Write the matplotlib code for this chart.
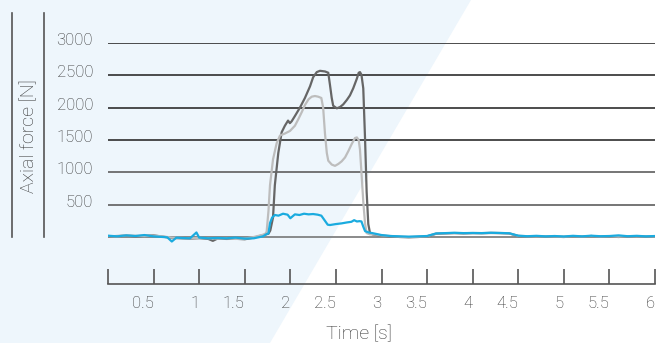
import matplotlib
matplotlib.use("Agg")
import matplotlib.pyplot as plt
from matplotlib.patches import Polygon
from matplotlib.lines import Line2D
from matplotlib.transforms import ScaledTranslation

plt.rcParams['font.family'] = ['Roboto', 'DejaVu Sans']

# ---------------- data ----------------
dark_t = [0.0, 0.1, 0.2, 0.3, 0.4, 0.5, 0.6, 0.7, 0.8, 0.9, 1.0, 1.1, 1.15, 1.2, 1.3, 1.4, 1.5, 1.6, 1.7,
          1.76, 1.78, 1.81, 1.83, 1.868, 1.905, 1.94, 1.975, 1.995, 2.015, 2.05, 2.105, 2.16, 2.216, 2.25,
          2.29, 2.325, 2.38, 2.416, 2.435, 2.454, 2.47, 2.51, 2.545, 2.58, 2.62, 2.654, 2.69, 2.73, 2.75,
          2.764, 2.78, 2.8, 2.82, 2.837, 2.855, 2.874,
          2.9, 3.0, 3.1, 3.2, 3.3, 3.4, 3.5, 3.6, 3.7, 3.8, 3.9, 4.0, 4.1, 4.2, 4.3, 4.4, 4.5, 4.6, 4.7,
          4.8, 4.9, 5.0, 5.1, 5.2, 5.3, 5.4, 5.5, 5.6, 5.7, 5.8, 5.9, 6.0]
dark_v = [10, 15, 20, 12, 18, 25, 5, -15, -20, -25, -18, -30, -60, -25, -30, -28, -35, -10, 30,
          50, 100, 300, 800, 1300, 1620, 1720, 1800, 1760, 1790, 1870, 2000, 2150, 2330, 2470,
          2550, 2570, 2560, 2540, 2350, 2150, 2030, 1990, 2010, 2050, 2120, 2190, 2300, 2450, 2540,
          2550, 2510, 2300, 1500, 700, 200, 60,
          40, 20, 10, 0, -5, 0, 10, 50, 55, 60, 55, 60, 58, 62, 60, 55, 15, 10, 5,
          10, 5, 0, 10, 5, 15, 5, 10, 0, 10, 5, 10, 5]

light_t = [0.0, 0.1, 0.2, 0.3, 0.4, 0.5, 0.6, 0.7, 0.8, 0.9, 1.0, 1.1, 1.2, 1.3, 1.4, 1.5, 1.6, 1.7,
           1.72, 1.74, 1.76, 1.777, 1.81, 1.85, 1.887, 1.94, 1.996, 2.05, 2.087, 2.125, 2.16, 2.2,
           2.235, 2.27, 2.305, 2.34, 2.36, 2.38, 2.4, 2.416, 2.454, 2.49, 2.527, 2.563, 2.6, 2.637,
           2.674, 2.709, 2.73, 2.75, 2.764, 2.78, 2.8, 2.82, 2.837, 2.874,
           2.9, 3.0, 3.1, 3.2, 3.3, 3.4, 3.5, 3.6, 3.7, 3.8, 3.9, 4.0, 4.1, 4.2, 4.3, 4.4, 4.5, 4.6, 4.7,
           4.8, 4.9, 5.0, 5.1, 5.2, 5.3, 5.4, 5.5, 5.6, 5.7, 5.8, 5.9, 6.0]
light_v = [15, 10, 25, 20, 15, 20, 10, -10, -15, -20, -15, -20, -25, -20, -30, -25, 0, 35,
           40, 80, 400, 800, 1200, 1450, 1570, 1600, 1640, 1720, 1820, 1930, 2040, 2130,
           2170, 2180, 2170, 2150, 2000, 1600, 1300, 1180, 1120, 1100, 1130, 1170, 1230, 1330,
           1440, 1530, 1540, 1500, 1350, 1000, 550, 200, 60, 40,
           45, 25, 15, 5, 0, 5, 12, 55, 58, 62, 58, 62, 60, 65, 62, 58, 18, 12, 8,
           12, 8, 5, 12, 8, 15, 8, 12, 5, 12, 8, 12, 8]

cyan_t = [0.0, 0.1, 0.2, 0.3, 0.4, 0.5, 0.6, 0.65, 0.7, 0.75, 0.8, 0.9, 0.97, 1.0, 1.1, 1.2, 1.3,
          1.4, 1.5, 1.6, 1.7, 1.74, 1.76, 1.777, 1.80, 1.83, 1.87, 1.92, 1.97, 2.0, 2.05, 2.1, 2.15,
          2.2, 2.25, 2.3, 2.34, 2.38, 2.41, 2.435, 2.5, 2.56, 2.62, 2.67, 2.7, 2.73, 2.76, 2.78,
          2.8, 2.82, 2.85, 2.87,
          2.9, 3.0, 3.1, 3.2, 3.3, 3.4, 3.5, 3.6, 3.7, 3.8, 3.9, 4.0, 4.1, 4.2, 4.3, 4.4, 4.5, 4.6, 4.7,
          4.8, 4.9, 5.0, 5.1, 5.2, 5.3, 5.4, 5.5, 5.6, 5.7, 5.8, 5.9, 6.0]
cyan_v = [20, 10, 25, 15, 30, 10, 0, -5, -70, -10, -15, -20, 70, -10, -20, -15, -20,
          -10, -25, -20, 10, 45, 55, 215, 300, 340, 330, 360, 345, 290, 350, 340, 360,
          350, 355, 345, 330, 250, 190, 185, 200, 210, 225, 235, 260, 240, 245, 240,
          160, 90, 75, 67,
          60, 30, 15, 10, 5, 10, 15, 55, 60, 65, 60, 62, 60, 65, 62, 58, 20, 12, 18,
          10, 15, 8, 18, 10, 20, 12, 15, 25, 12, 18, 10, 15]

y_grid = [500, 1000, 1500, 2000, 2500, 3000]
x_ticks = [0, 0.5, 1, 1.5, 2, 2.5, 3, 3.5, 4, 4.5, 5, 5.5, 6]
x_ticklabels = ['', '0.5', '1', '1.5', '2', '2.5', '3', '3.5', '4', '4.5', '5', '5.5', '6']

# ---------------- figure ----------------
W, H = 666, 343
fig = plt.figure(figsize=(W / 100, H / 100), dpi=100)
fig.patch.set_facecolor('white')

# light-blue diagonal background band (behind everything)
bg = Polygon([(0, 1), (471 / W, 1), (270 / W, 0), (0, 0)], closed=True,
             transform=fig.transFigure, facecolor='#eef6fc', edgecolor='none', zorder=-10)
fig.add_artist(bg)

ax = fig.add_axes([108 / W, 1 - 284 / H, 547 / W, (284 - 43) / H])
ax.set_zorder(5)
ax.patch.set_alpha(0)
ax.set_xlim(0, 6)
ax.set_ylim(-727, 3000)

for yv in y_grid:
    col = '#2e2e2e' if yv >= 1500 else '#5e5e5e'
    ax.axhline(yv, color=col, lw=1.2, zorder=1)
ax.axhline(0, color='#777777', lw=1.2, zorder=1)

ax.plot(dark_t, dark_v, color='#666666', lw=1.6, zorder=3)
ax.plot(light_t, light_v, color='#bdbdbd', lw=1.6, zorder=4)
ax.plot(cyan_t, cyan_v, color='#1aabdf', lw=1.6, zorder=5)

for s in ['top', 'right', 'left']:
    ax.spines[s].set_visible(False)
ax.spines['bottom'].set_color('#555555')
ax.spines['bottom'].set_linewidth(1.2)

TXT = '#333333'
ax.set_xticks(x_ticks)
ax.set_xticklabels(x_ticklabels)
ax.tick_params(axis='x', direction='in', length=10.8, width=1.2, color='#555555',
               pad=8.5, labelsize=12, labelcolor=TXT)
for lab in ax.get_xticklabels():
    lab.set_ha('right')
    lab.set_fontweight('light')

ax.set_yticks(y_grid)
ax.set_yticklabels([str(v) for v in y_grid])
ax.tick_params(axis='y', length=0, pad=15 * 0.72, labelsize=12, labelcolor=TXT)
off = ScaledTranslation(0, 4 / 100, fig.dpi_scale_trans)
for lab in ax.get_yticklabels():
    lab.set_transform(lab.get_transform() + off)
    lab.set_fontweight('light')

# left framing lines
for xp in (12.3, 44):
    fig.add_artist(Line2D([xp / W, xp / W], [1 - 13 / H, 1 - 237 / H],
                          transform=fig.transFigure, color='#555555', lw=1.2))

fig.text(29 / W, 1 - 136 / H, 'Axial force [N]', rotation=90, ha='center', va='center',
         fontsize=14, color=TXT, fontweight='light')
fig.text(359 / W, 1 - 334 / H, 'Time [s]', ha='center', va='center',
         fontsize=14, color=TXT, fontweight='light')

fig.savefig('out.png', dpi=100, facecolor=fig.get_facecolor())
